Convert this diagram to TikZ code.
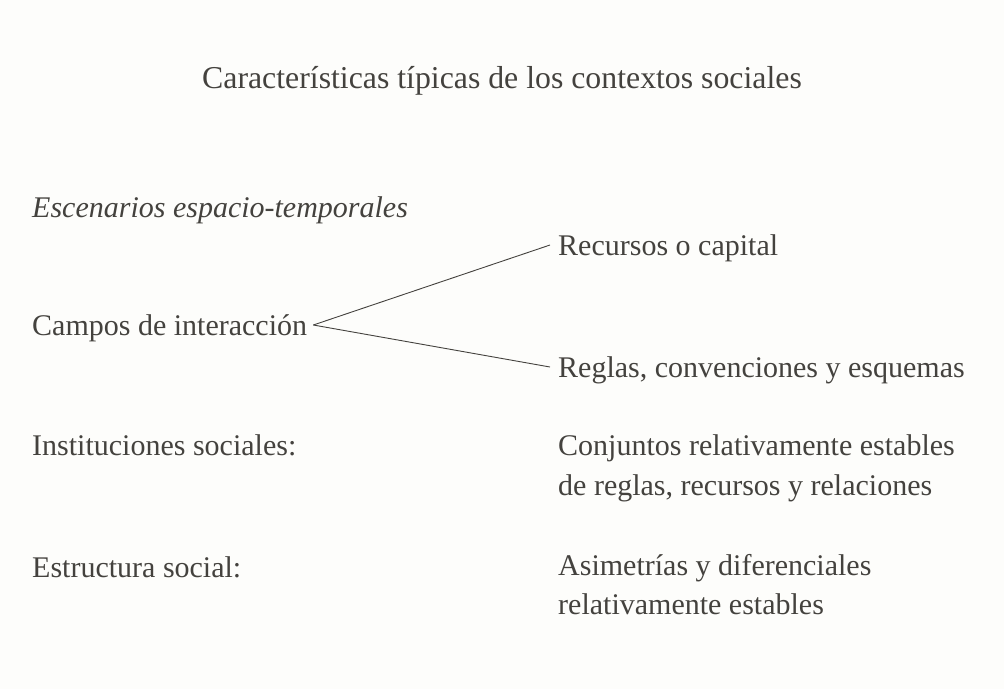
\documentclass[tikz,border=0pt]{standalone}
\usepackage{fontspec}
\setmainfont{Liberation Serif}
\usepackage{xcolor}
\definecolor{ink}{RGB}{68,66,62}
\definecolor{paper}{RGB}{253,253,251}

\begin{document}
\begin{tikzpicture}[x=1pt, y=-1pt,
  txt/.style={anchor=base west, inner sep=2pt, text=ink, font=\fontsize{30}{40}\selectfont},
  link/.style={draw=ink, line width=0.9pt}]
  % Page
  \fill[paper] (0,0) rectangle (1004,689);
  \useasboundingbox (0,0) rectangle (1004,689);

  % Title
  \node[txt, anchor=base, font=\fontsize{31.8}{40}\selectfont] (title) at (502, 88) {Características típicas de los contextos sociales};

  % Left column
  \node[txt, font=\fontsize{30}{40}\selectfont\itshape] (escen) at (30, 217) {Escenarios espacio-temporales};
  \node[txt] (campos) at (30, 335) {Campos de interacción};
  \node[txt] (instit) at (30, 455) {Instituciones sociales:};
  \node[txt] (estruc) at (30, 577) {Estructura social:};

  % Right column
  \node[txt] (recursos) at (556, 255) {Recursos o capital};
  \node[txt] (reglas) at (556, 377) {Reglas, convenciones y esquemas};
  \node[txt] (conj1) at (556, 455) {Conjuntos relativamente estables};
  \node[txt] (conj2) at (556, 495) {de reglas, recursos y relaciones};
  \node[txt] (asim1) at (556, 575) {Asimetrías y diferenciales};
  \node[txt] (asim2) at (556, 614) {relativamente estables};

  % Branches
  \coordinate (fork) at ([xshift=4pt, yshift=10pt]campos.base east);
  \draw[link] (fork) -- ([xshift=-6pt, yshift=10pt]recursos.base west);
  \draw[link] (fork) -- ([xshift=-6pt, yshift=10pt]reglas.base west);
\end{tikzpicture}
\end{document}
